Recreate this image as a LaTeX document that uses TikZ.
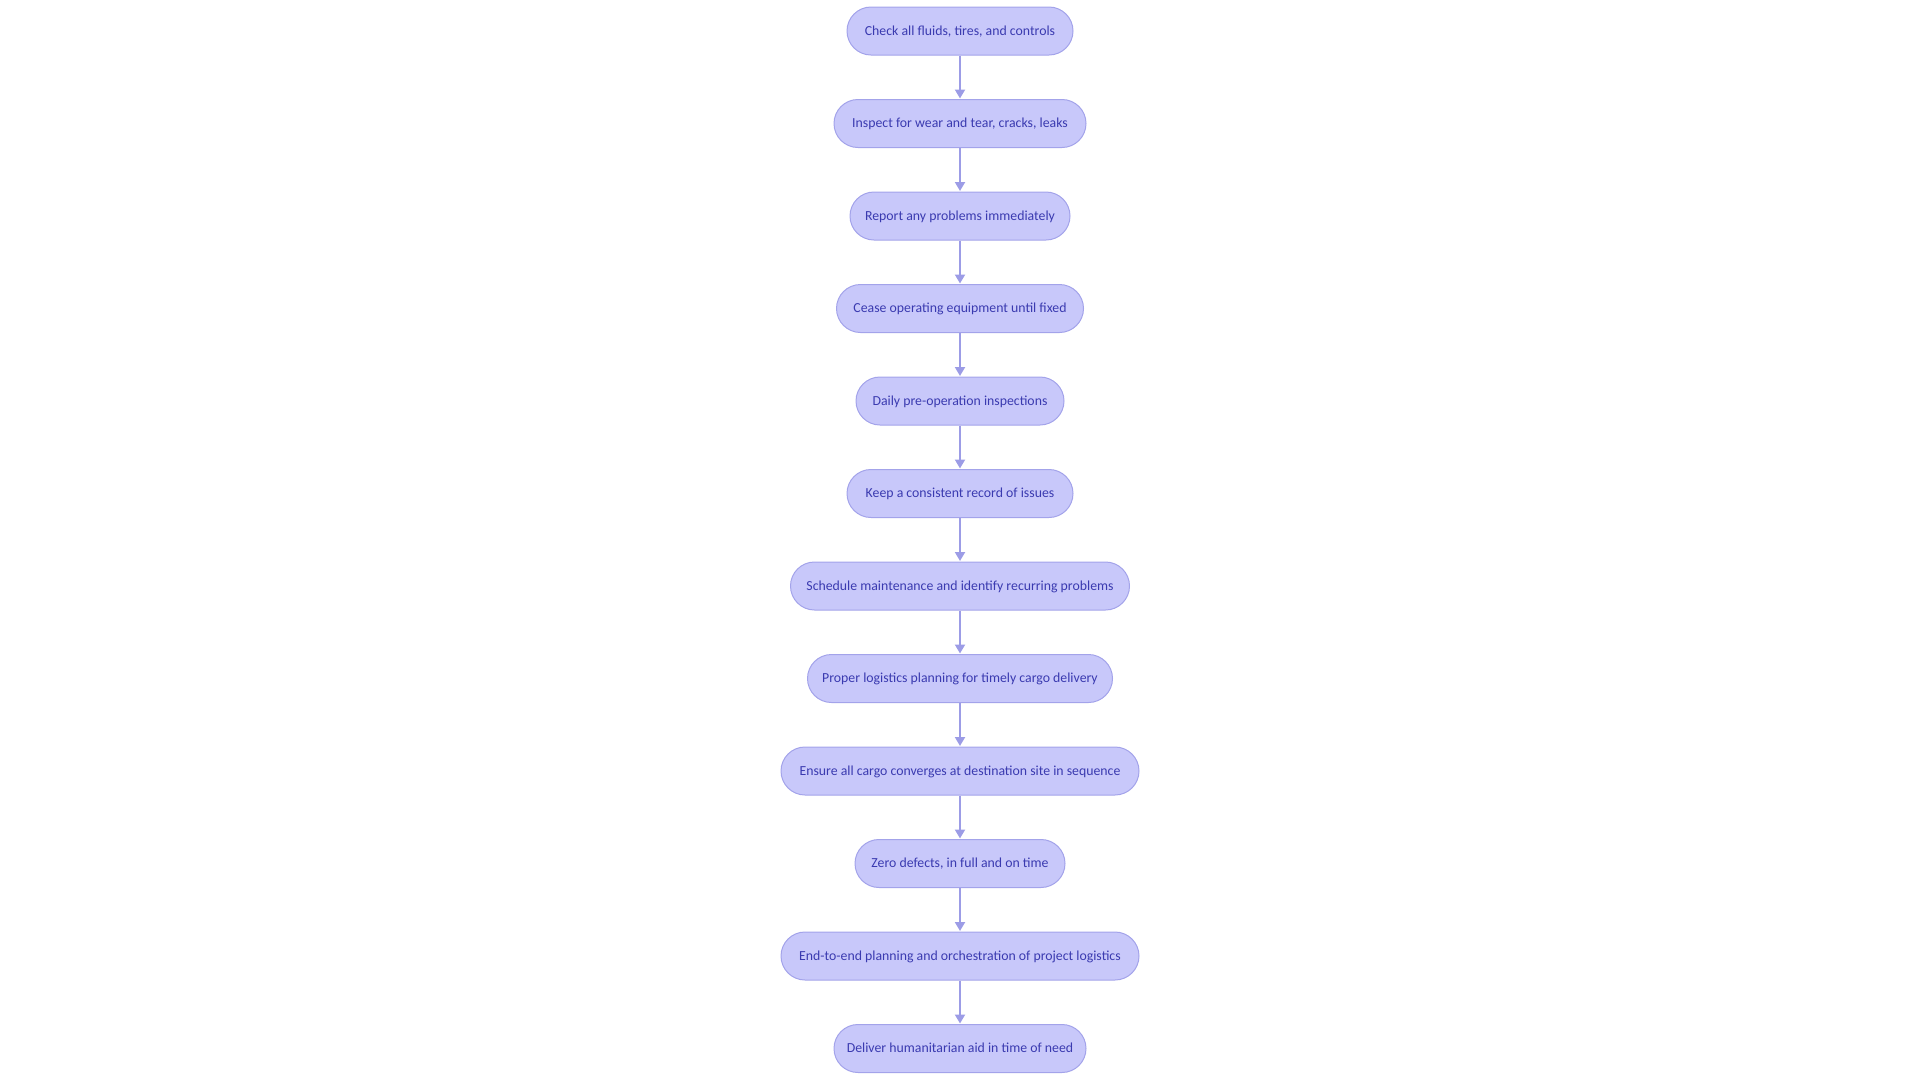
\documentclass[tikz,border=0pt]{standalone}
\usepackage{fontspec}
\setmainfont{Carlito}
\usetikzlibrary{arrows.meta}
\definecolor{nodefill}{HTML}{C8C8FA}
\definecolor{nodedraw}{HTML}{A3A3EA}
\definecolor{nodetext}{HTML}{3A3AB0}
\definecolor{linkcol}{HTML}{9C9CE6}
\tikzset{
  stepbox/.style={draw=nodedraw, fill=nodefill, line width=1pt, rounded corners=24pt,
    minimum height=48pt, inner sep=0pt, text=nodetext, text height=8.9pt, text depth=0pt,
    font=\fontsize{13.8}{16}\selectfont},
  link/.style={draw=linkcol, line width=2pt, -{Triangle[width=10pt,length=9pt]}, shorten >=0.5pt}
}
\begin{document}
\begin{tikzpicture}[x=1pt,y=-1pt]
\useasboundingbox (0,0) rectangle (1920,1080);
\node[stepbox, minimum width=226pt] (n1) at (960,31) {Check all fluids, tires, and controls};
\node[stepbox, minimum width=252pt] (n2) at (960,123.5) {Inspect for wear and tear, cracks, leaks};
\node[stepbox, minimum width=220pt] (n3) at (960,216) {Report any problems immediately};
\node[stepbox, minimum width=247pt] (n4) at (960,308.5) {Cease operating equipment until fixed};
\node[stepbox, minimum width=208pt] (n5) at (960,401) {Daily pre-operation inspections};
\node[stepbox, minimum width=226pt] (n6) at (960,493.5) {Keep a consistent record of issues};
\node[stepbox, minimum width=339pt] (n7) at (960,586) {Schedule maintenance and identify recurring problems};
\node[stepbox, minimum width=305pt] (n8) at (960,678.5) {Proper logistics planning for timely cargo delivery};
\node[stepbox, minimum width=358pt] (n9) at (960,771) {Ensure all cargo converges at destination site in sequence};
\node[stepbox, minimum width=210pt] (n10) at (960,863.5) {Zero defects, in full and on time};
\node[stepbox, minimum width=358pt] (n11) at (960,956) {End-to-end planning and orchestration of project logistics};
\node[stepbox, minimum width=252pt] (n12) at (960,1048.5) {Deliver humanitarian aid in time of need};
\foreach \a/\b in {n1/n2,n2/n3,n3/n4,n4/n5,n5/n6,n6/n7,n7/n8,n8/n9,n9/n10,n10/n11,n11/n12}
  \draw[link] (\a) -- (\b);
\end{tikzpicture}
\end{document}
